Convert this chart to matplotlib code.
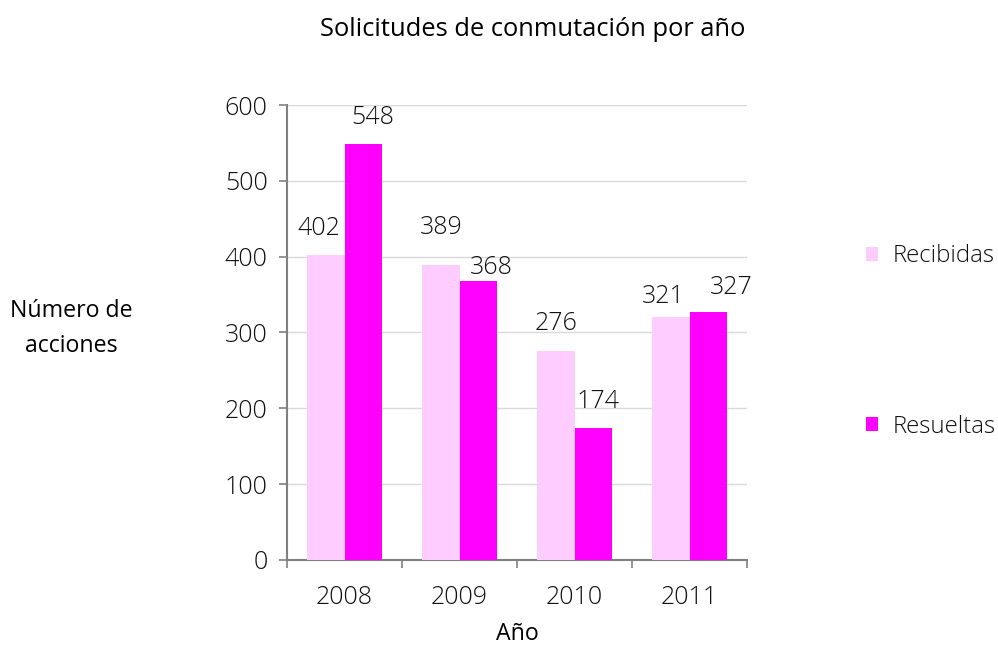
import matplotlib
matplotlib.use("Agg")
import matplotlib.pyplot as plt
import numpy as np
from matplotlib.patches import Patch

years = ["2008", "2009", "2010", "2011"]
recibidas = [402, 389, 276, 321]
resueltas = [548, 368, 174, 327]
series_names = ["Recibidas", "Resueltas"]
colors = ["#FFCCFF", "#FF00FF"]

# label nudges in pixels (dx, dy above bar top), per series
nudge_rec = [(-7, 27), (1, 38), (1, 27), (-7, 20)]
nudge_res = [(9, 27), (13, 13), (5, 27), (23, 25)]

plt.rcParams['font.family'] = ['Open Sans', 'DejaVu Sans']
LIGHT = dict(fontweight=300, color="#111111")
NUM = 18

fig = plt.figure(figsize=(9.98, 6.45), dpi=100)
ax = fig.add_axes([0.2876, 0.1318, 0.4609, 0.7054])

x = np.arange(len(years))
w = 0.33
b1 = ax.bar(x - w/2, recibidas, w, color=colors[0], zorder=3)
b2 = ax.bar(x + w/2, resueltas, w, color=colors[1], zorder=3)

for bars, vals, nud in ((b1, recibidas, nudge_rec), (b2, resueltas, nudge_res)):
    for r, v, (dx, dy) in zip(bars, vals, nud):
        ax.annotate(str(v), (r.get_x() + r.get_width()/2, v), xytext=(dx, dy),
                    textcoords="offset pixels", ha="center", va="center",
                    fontsize=NUM, **LIGHT)

ax.set_xlim(-0.5, len(years) - 0.5)
ax.set_ylim(0, 600)
ax.set_yticks(range(0, 601, 100))
ax.set_xticks(x)
ax.set_xticklabels(years, fontsize=NUM, **LIGHT)
ax.set_xticks(np.arange(-0.5, len(years)), minor=True)
ax.tick_params(axis='x', which='major', length=0, pad=18)
ax.tick_params(axis='x', which='minor', length=6, width=1.2, color="#808080", direction='out')
ax.tick_params(axis='y', length=6, width=1.2, color="#808080", pad=8)
ax.set_yticklabels([str(v) for v in range(0, 601, 100)], fontsize=NUM, **LIGHT)
ax.yaxis.grid(True, color="#d9d9d9", linewidth=1, zorder=0)
ax.set_axisbelow(True)
for s in ("top", "right"):
    ax.spines[s].set_visible(False)
for s in ("left", "bottom"):
    ax.spines[s].set_color("#808080")
    ax.spines[s].set_linewidth(1.5)

fig.text(0.534, 0.955, "Solicitudes de conmutación por año", ha="center", va="center", fontsize=18.4, color="black")
fig.text(0.071, 0.491, "Número de\nacciones", ha="center", va="center", fontsize=16.7, linespacing=1.6, color="black")
fig.text(0.518, 0.017, "Año", ha="center", va="center", fontsize=16.7, color="black")

handles = [Patch(facecolor=colors[0]), Patch(facecolor=colors[1])]
leg = fig.legend(handles, series_names, loc="center left", bbox_to_anchor=(0.8677, 0.4705),
                 frameon=False, fontsize=17.3, handlelength=0.5, handleheight=0.5,
                 handletextpad=0.6, labelspacing=6.1, borderpad=0, borderaxespad=0)
for t in leg.get_texts():
    t.set_fontweight(300)
    t.set_color("#111111")

fig.savefig("out.png", dpi=100)
